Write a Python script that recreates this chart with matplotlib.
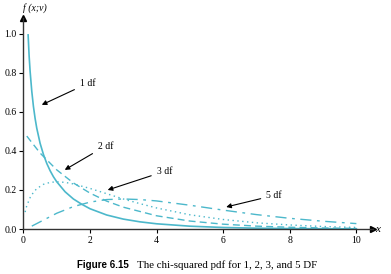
import numpy as np
import matplotlib
matplotlib.use("Agg")
import matplotlib.pyplot as plt

# values (chi-squared pdf curves)
x1 = [0.14, 0.17, 0.2, 0.25, 0.3, 0.35, 0.4, 0.5, 0.6, 0.7, 0.8, 0.9, 1.0, 1.25, 1.5, 1.75,
      2.0, 2.5, 3.0, 3.5, 4.0, 5.0, 6.0, 7.0, 8.0, 9.0, 10.0]
y1 = [0.994, 0.886, 0.807, 0.705, 0.627, 0.566, 0.516, 0.439, 0.382, 0.336, 0.299, 0.268,
      0.242, 0.191, 0.154, 0.127, 0.104, 0.072, 0.051, 0.037, 0.027, 0.0147, 0.0081,
      0.0046, 0.0026, 0.0015, 0.0009]

x2 = [0.1, 0.5, 1.0, 1.5, 2.0, 2.5, 3.0, 4.0, 5.0, 6.0, 7.0, 8.0, 9.0, 10.0]
y2 = [0.476, 0.389, 0.303, 0.236, 0.184, 0.143, 0.112, 0.068, 0.041, 0.025, 0.015,
      0.0092, 0.0056, 0.0034]

x3 = [0.05, 0.1, 0.2, 0.3, 0.4, 0.6, 0.8, 1.0, 1.25, 1.5, 2.0, 2.5, 3.0, 3.5, 4.0, 5.0,
      6.0, 7.0, 8.0, 9.0, 10.0]
y3 = [0.087, 0.120, 0.161, 0.188, 0.207, 0.229, 0.239, 0.242, 0.239, 0.231, 0.208,
      0.181, 0.154, 0.130, 0.108, 0.073, 0.049, 0.032, 0.021, 0.013, 0.0085]

x5 = [0.25, 0.5, 1.0, 1.5, 2.0, 2.5, 3.0, 3.5, 4.0, 5.0, 6.0, 7.0, 8.0, 9.0, 10.0]
y5 = [0.015, 0.037, 0.081, 0.115, 0.138, 0.151, 0.154, 0.151, 0.144, 0.122, 0.097,
      0.074, 0.055, 0.040, 0.028]

xticks = [0, 2, 4, 6, 8, 10]
yticks = [0.0, 0.2, 0.4, 0.6, 0.8, 1.0]

# label text, text position, arrow head
labels = ["1 df", "2 df", "3 df", "5 df"]
label_xy = [(1.69, 0.745), (2.23, 0.425), (4.0, 0.295), (7.29, 0.172)]
head_xy = [(0.55, 0.636), (1.24, 0.303), (2.53, 0.20), (6.09, 0.113)]

col = "#4cb8cb"
serif = "Liberation Serif"

fig = plt.figure(figsize=(3.91, 2.74), dpi=100)
ax = fig.add_axes([0.060, 0.164, 0.894, 0.770])

ax.plot(x1, y1, color=col, lw=1.2, ls="-")
ax.plot(x2, y2, color=col, lw=1.0, ls=(0, (5, 3)))
ax.plot(x3, y3, color=col, lw=1.0, ls=(0, (1, 2.5)))
ax.plot(x5, y5, color=col, lw=1.0, ls=(0, (8, 4, 2, 4)))

ax.set_xlim(0, 10.5)
ax.set_ylim(0, 1.08)
ax.spines["top"].set_visible(False)
ax.spines["right"].set_visible(False)
for s in ["left", "bottom"]:
    ax.spines[s].set_linewidth(1.0)
    ax.spines[s].set_color("#333333")
ax.plot(1, 0, ">", color="black", ms=5, transform=ax.transAxes, clip_on=False)
ax.plot(0, 1, "^", color="black", ms=5, transform=ax.transAxes, clip_on=False)

ax.set_xticks(xticks)
ax.set_yticks(yticks)
ax.set_yticklabels([f"{v:.1f}" for v in yticks])
ax.tick_params(axis="both", direction="out", length=3, width=0.8, pad=2,
               labelsize=7)
for lab in ax.get_xticklabels() + ax.get_yticklabels():
    lab.set_family(serif)

for lab, txy, hxy in zip(labels, label_xy, head_xy):
    ax.annotate(lab, xy=hxy, xytext=txy, fontsize=7, family=serif,
                va="center", ha="left",
                arrowprops=dict(arrowstyle="-|>", color="black", lw=0.8,
                                mutation_scale=7, shrinkA=2, shrinkB=0))

fig.text(0.09, 0.97, "f (x;v)", fontsize=7, family=serif, style="italic",
         ha="center", va="center")
fig.text(0.967, 0.164, "x", fontsize=8, family=serif, style="italic",
         ha="center", va="center")

fig.text(0.197, 0.033, "Figure 6.15", fontsize=7, family="Liberation Sans",
         weight="bold", ha="left", va="center")
fig.text(0.350, 0.033, "The chi-squared pdf for 1, 2, 3, and 5 DF", fontsize=7.8,
         family=serif, ha="left", va="center")

fig.savefig("out.png", dpi=100)
